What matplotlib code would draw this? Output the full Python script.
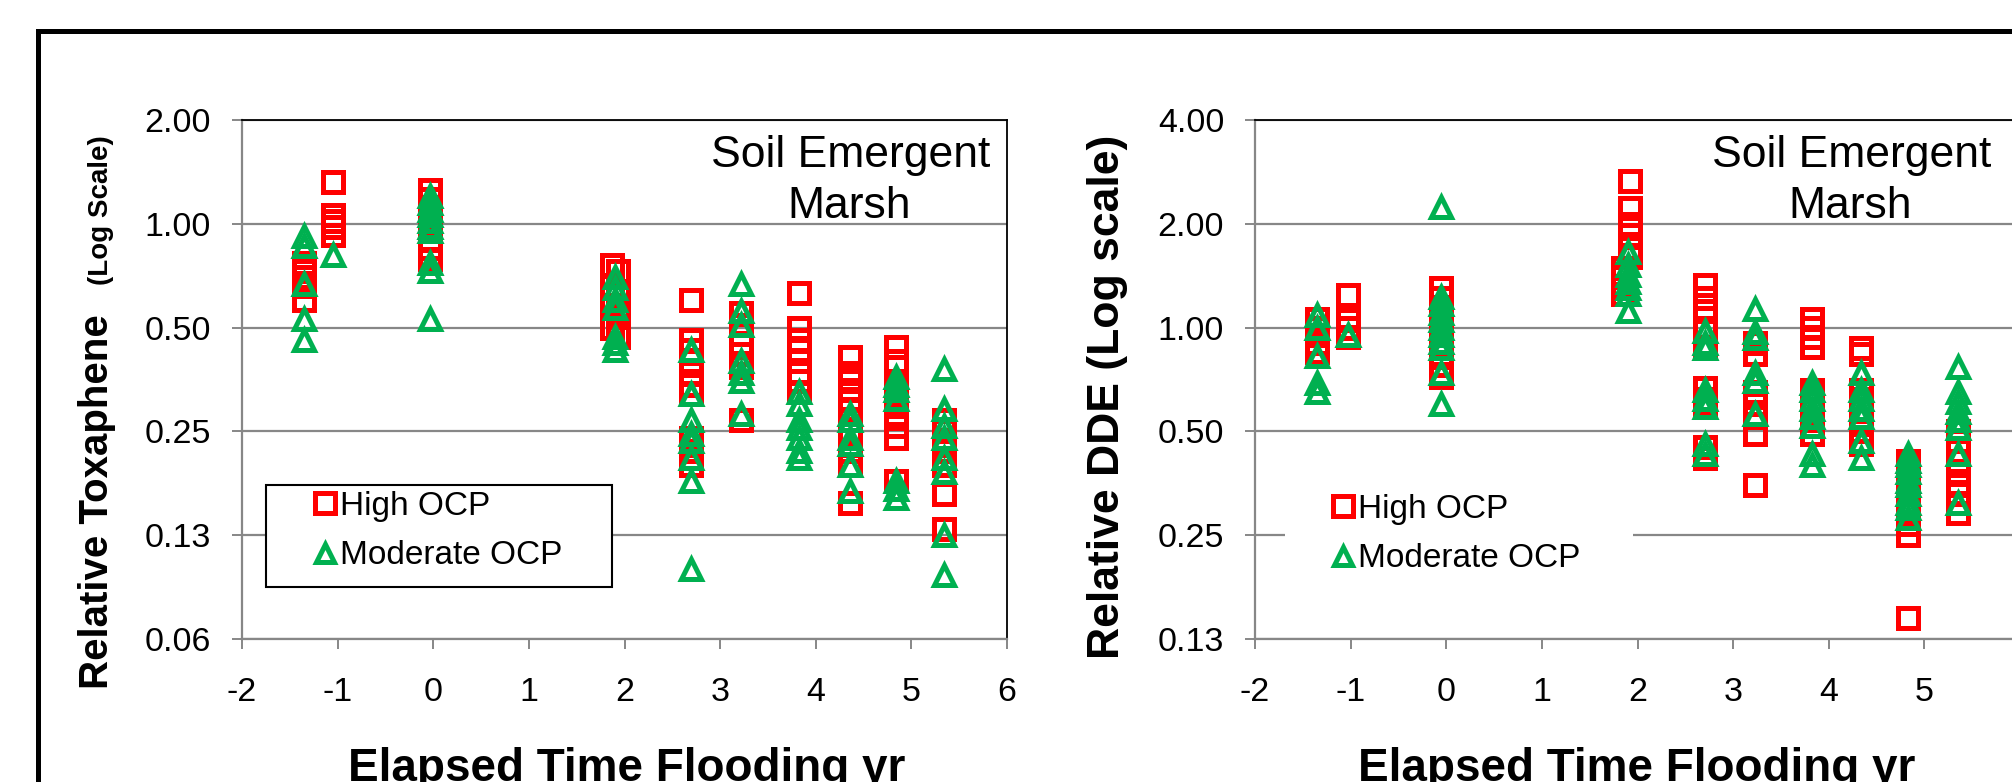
import numpy as np
import matplotlib.pyplot as plt
from matplotlib.patches import Rectangle
from matplotlib.ticker import FixedLocator, FixedFormatter, NullLocator

plt.rcParams["font.family"] = ["Liberation Sans", "DejaVu Sans"]
plt.rcParams["axes.unicode_minus"] = False

# ---------------------------------------------------------
# Data: elapsed time (yr) per sample group,
# relative concentration of each sample in the group
# ---------------------------------------------------------
tox_high_t = [-1.35, -1.05, -0.03, 1.87, 1.93, 2.70, 3.22, 3.83, 4.36, 4.84, 5.34]
tox_high_v = [
    [0.77, 0.73, 0.70, 0.66, 0.60],
    [1.32, 1.06, 1.02, 0.98, 0.93],
    [1.25, 1.18, 1.12, 1.05, 1.00, 0.95, 0.90, 0.85, 0.79],
    [0.76, 0.66, 0.58, 0.50],
    [0.73, 0.62, 0.55, 0.47],
    [0.60, 0.46, 0.43, 0.40, 0.37, 0.34, 0.32, 0.24, 0.22, 0.20],
    [0.55, 0.51, 0.48, 0.45, 0.42, 0.385, 0.27],
    [0.63, 0.50, 0.46, 0.43, 0.40, 0.37, 0.35, 0.325],
    [0.41, 0.37, 0.35, 0.33, 0.31, 0.29, 0.27, 0.245, 0.22, 0.20, 0.155],
    [0.44, 0.40, 0.34, 0.32, 0.30, 0.28, 0.26, 0.24, 0.18],
    [0.27, 0.25, 0.235, 0.22, 0.20, 0.165, 0.13],
]
tox_mod_t = [-1.35, -1.05, -0.03, 1.90, 2.70, 3.22, 3.83, 4.36, 4.84, 5.34]
tox_mod_v = [
    [0.92, 0.86, 0.67, 0.53, 0.46],
    [0.81],
    [1.20, 1.15, 1.10, 1.06, 1.02, 0.98, 0.95, 0.77, 0.73, 0.53],
    [0.70, 0.65, 0.60, 0.57, 0.47, 0.45, 0.43],
    [0.43, 0.32, 0.27, 0.245, 0.235, 0.21, 0.18, 0.10],
    [0.67, 0.56, 0.51, 0.40, 0.37, 0.35, 0.28],
    [0.325, 0.30, 0.27, 0.255, 0.24, 0.22, 0.21],
    [0.28, 0.27, 0.24, 0.23, 0.20, 0.168],
    [0.36, 0.34, 0.33, 0.31, 0.18, 0.17, 0.16],
    [0.38, 0.29, 0.26, 0.24, 0.21, 0.19, 0.125, 0.096],
]

dde_high_t = [-1.35, -1.03, -0.05, 1.92, 1.85, 2.71, 3.23, 3.83, 4.34, 4.83, 5.35]
dde_high_v = [
    [1.06, 1.00, 0.95, 0.90, 0.85],
    [1.24, 1.05, 1.00, 0.94],
    [1.30, 1.22, 1.15, 1.08, 1.02, 0.96, 0.90, 0.84, 0.78, 0.72],
    [2.66, 2.22, 2.00, 1.85, 1.70, 1.60],
    [1.49, 1.40, 1.32, 1.25],
    [1.33, 1.22, 1.12, 1.00, 0.88, 0.67, 0.62, 0.60, 0.45, 0.42],
    [0.90, 0.84, 0.65, 0.60, 0.55, 0.49, 0.35],
    [1.06, 1.00, 0.94, 0.88, 0.66, 0.62, 0.58, 0.54, 0.49],
    [0.87, 0.84, 0.66, 0.62, 0.58, 0.54, 0.50, 0.46],
    [0.41, 0.39, 0.37, 0.35, 0.33, 0.31, 0.29, 0.27, 0.25, 0.144],
    [0.50, 0.47, 0.44, 0.41, 0.38, 0.35, 0.33, 0.31, 0.29],
]
dde_mod_t = [-1.35, -1.03, -0.05, 1.90, 2.71, 3.23, 3.83, 4.34, 4.83, 5.35]
dde_mod_v = [
    [1.09, 1.00, 0.83, 0.69, 0.65],
    [0.95],
    [2.24, 1.23, 1.17, 1.10, 1.05, 1.00, 0.95, 0.91, 0.87, 0.74, 0.60],
    [1.66, 1.52, 1.42, 1.36, 1.30, 1.25, 1.12],
    [0.98, 0.90, 0.87, 0.66, 0.62, 0.59, 0.46, 0.43],
    [1.13, 0.97, 0.93, 0.74, 0.70, 0.56],
    [0.69, 0.66, 0.62, 0.58, 0.55, 0.52, 0.43, 0.40],
    [0.74, 0.66, 0.62, 0.58, 0.55, 0.47, 0.42],
    [0.43, 0.41, 0.40, 0.38, 0.36, 0.35, 0.33, 0.31, 0.30, 0.28],
    [0.77, 0.65, 0.61, 0.57, 0.54, 0.51, 0.43, 0.31],
]

x_ticks = [-2, -1, 0, 1, 2, 3, 4, 5, 6]
tox_ticks = [0.0625, 0.125, 0.25, 0.5, 1.0, 2.0]
tox_labels = ["0.06", "0.13", "0.25", "0.50", "1.00", "2.00"]
dde_ticks = [0.125, 0.25, 0.5, 1.0, 2.0, 4.0]
dde_labels = ["0.13", "0.25", "0.50", "1.00", "2.00", "4.00"]

# ---------------------------------------------------------
# Style
# ---------------------------------------------------------
RED = "#FF0000"
GREEN = "#00B050"
GRAY = "#878787"

W, H = 2012, 782


def fx(x):
    return x / W


def fy(y):
    return 1 - y / H


fig = plt.figure(figsize=(W / 100, H / 100), dpi=100)

# outer chart frame (cropped on right and bottom)
fig.add_artist(Rectangle((fx(37.5), fy(900)), 1.2, fy(30.5) - fy(900),
                         transform=fig.transFigure, fill=False,
                         edgecolor="black", linewidth=3.6, clip_on=False))


def painel(x0, x1, high_t, high_v, mod_t, mod_v, yticks, ylabels):
    ax = fig.add_axes([fx(x0), fy(639), fx(x1) - fx(x0), fy(120) - fy(639)])
    ax.set_yscale("log", base=2)
    ax.set_xlim(-2, 6)
    ax.set_ylim(yticks[0], yticks[-1])
    ax.xaxis.set_major_locator(FixedLocator(x_ticks))
    ax.xaxis.set_major_formatter(FixedFormatter([str(t) for t in x_ticks]))
    ax.yaxis.set_major_locator(FixedLocator(yticks))
    ax.yaxis.set_major_formatter(FixedFormatter(ylabels))
    ax.yaxis.set_minor_locator(NullLocator())
    ax.yaxis.grid(True, color=GRAY, linewidth=1.6)
    ax.set_axisbelow(True)
    for s in ("left", "bottom"):
        ax.spines[s].set_color(GRAY)
        ax.spines[s].set_linewidth(1.6)
    for s in ("top", "right"):
        ax.spines[s].set_color("black")
        ax.spines[s].set_linewidth(1.3)
    ax.tick_params(axis="both", direction="out", length=7.2, width=1.4,
                   color=GRAY, labelsize=24.5)
    ax.tick_params(axis="x", pad=20)
    ax.tick_params(axis="y", pad=15)

    for i, (t, v) in enumerate(zip(high_t, high_v)):
        ax.plot(np.full(len(v), t), v, linestyle="none", marker="s",
                markersize=14.5, markerfacecolor="none", markeredgecolor=RED,
                markeredgewidth=3.6, zorder=3,
                label="High OCP" if i == 0 else None)
    for i, (t, v) in enumerate(zip(mod_t, mod_v)):
        ax.plot(np.full(len(v), t), v, linestyle="none", marker="^",
                markersize=14, markerfacecolor="none", markeredgecolor=GREEN,
                markeredgewidth=3.6, zorder=4,
                label="Moderate OCP" if i == 0 else None)
    return ax


ax1 = painel(242, 1007, tox_high_t, tox_high_v, tox_mod_t, tox_mod_v,
             tox_ticks, tox_labels)
ax2 = painel(1255, 2020, dde_high_t, dde_high_v, dde_mod_t, dde_mod_v,
             dde_ticks, dde_labels)

# legend boxes
ax1.add_patch(Rectangle((fx(266), fy(587)), fx(612) - fx(266), fy(485) - fy(587),
                        transform=fig.transFigure, facecolor="white",
                        edgecolor="black", linewidth=1.5, zorder=2.5,
                        clip_on=False))
ax2.add_patch(Rectangle((fx(1285), fy(590)), fx(1633) - fx(1285), fy(488) - fy(590),
                        transform=fig.transFigure, facecolor="white",
                        edgecolor="none", zorder=2.5, clip_on=False))

for ax, (lx, ly) in ((ax1, (312, 491)), (ax2, (1330, 494))):
    leg = ax.legend(loc="upper left", bbox_to_anchor=(fx(lx), fy(ly)),
                    bbox_transform=fig.transFigure, frameon=False,
                    fontsize=24, borderpad=0, borderaxespad=0,
                    handlelength=0.8, handletextpad=0.05, labelspacing=0.55,
                    numpoints=1, markerscale=0.95)
    leg.set_zorder(6)

# axis titles
fig.text(fx(108), fy(502), "Relative Toxaphene", rotation=90,
         rotation_mode="anchor", ha="center", va="baseline",
         fontsize=29, fontweight="bold")
fig.text(fx(108), fy(210), "(Log Scale)", rotation=90,
         rotation_mode="anchor", ha="center", va="baseline",
         fontsize=20, fontweight="bold")
fig.text(fx(1119), fy(397), "Relative DDE (Log scale)", rotation=90,
         rotation_mode="anchor", ha="center", va="baseline",
         fontsize=32, fontweight="bold")

for cx in (627, 1637):
    fig.text(fx(cx), fy(781), "Elapsed Time Flooding yr", ha="center",
             va="baseline", fontsize=33, fontweight="bold")

for cx in (851, 1852):
    fig.text(fx(cx), fy(167), "Soil Emergent", ha="center", va="baseline",
             fontsize=32)
    fig.text(fx(cx - 2), fy(218), "Marsh", ha="center", va="baseline",
             fontsize=32)

fig.savefig("out.png", dpi=100)
